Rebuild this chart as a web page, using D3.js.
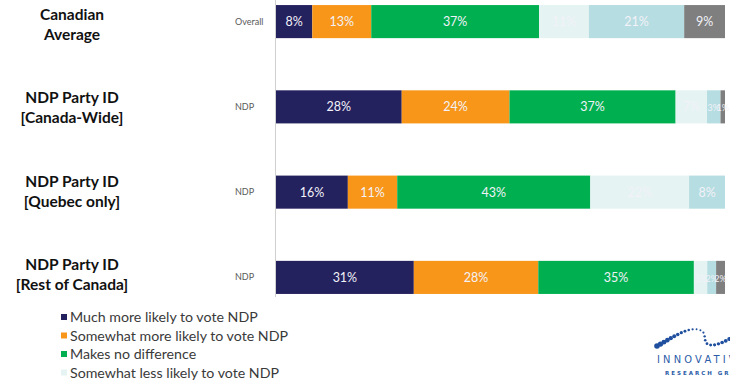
<!DOCTYPE html>
<html>
<head>
<meta charset="utf-8">
<script src="https://cdn.jsdelivr.net/npm/d3@7"></script>
<style>
  body { margin: 0; background: #fff; }
  svg { display: block; font-family: Lato, "Open Sans", sans-serif; }
</style>
</head>
<body>
<div id="chart"></div>
<script>
// groups (rows), top to bottom
const groupTitles = [
    ["Canadian", "Average"],
    ["NDP Party ID", "[Canada-Wide]"],
    ["NDP Party ID", "[Quebec only]"],
    ["NDP Party ID", "[Rest of Canada]"]
];
const rowLabels = ["Overall", "NDP", "NDP", "NDP"];

// answer categories, in stacking order
const seriesNames = [
    "Much more likely to vote NDP",
    "Somewhat more likely to vote NDP",
    "Makes no difference",
    "Somewhat less likely to vote NDP",
    "Much less likely to vote NDP",
    "Don't know"
];
const seriesColors = ["#24215f", "#f8961a", "#00b050", "#e5f3f3", "#b6dde1", "#7f7f7f"];

// percentages per series, one value per row
const muchMore      = [8, 28, 16, 31];
const somewhatMore  = [13, 24, 11, 28];
const noDifference  = [37, 37, 43, 35];
const somewhatLess  = [11, 7, 22, 3];
const muchLess      = [21, 3, 8, 2];
const dontKnow      = [9, 1, 0, 2];

const seriesValues = [muchMore, somewhatMore, noDifference, somewhatLess, muchLess, dontKnow];

const width = 730, height = 381;

const rows = rowLabels.map((label, i) => {
    const r = { row: i };
    seriesNames.forEach((s, j) => { r[s] = seriesValues[j][i]; });
    return r;
});

const stack = d3.stack().keys(seriesNames).offset(d3.stackOffsetExpand);
const layers = stack(rows);

const x = d3.scaleLinear().domain([0, 1]).range([276, 725]);
const y = d3.scaleBand().domain(d3.range(rows.length))
    .range([-12, 311]).paddingInner(0.612).paddingOuter(0.2);
const color = d3.scaleOrdinal().domain(seriesNames).range(seriesColors);

const svg = d3.select("#chart").append("svg")
    .attr("width", width)
    .attr("height", height);

// vertical category axis line
svg.append("line")
    .attr("x1", 275.5).attr("x2", 275.5)
    .attr("y1", 0).attr("y2", 297)
    .attr("stroke", "#d0d0d0");

// bars
const layer = svg.append("g").selectAll("g")
    .data(layers)
    .join("g")
    .attr("fill", d => color(d.key));

layer.selectAll("rect")
    .data(d => d.map((v, i) => ({ v: v, i: i, key: d.key, value: v.data[d.key] })))
    .join("rect")
    .attr("x", d => x(d.v[0]))
    .attr("y", d => y(d.i))
    .attr("width", d => x(d.v[1]) - x(d.v[0]))
    .attr("height", y.bandwidth());

// value labels (tiny segments get a smaller font, they crowd like in the original)
layer.selectAll("text")
    .data(d => d.map((v, i) => ({ v: v, i: i, value: v.data[d.key] })).filter(d => d.value > 0))
    .join("text")
    .attr("x", d => (x(d.v[0]) + x(d.v[1])) / 2)
    .attr("y", d => y(d.i) + y.bandwidth() / 2 + 4.5)
    .attr("text-anchor", "middle")
    .attr("fill", "#f2f2f8")
    .attr("font-size", d => d.value <= 3 ? 9 : 12.5)
    .text(d => d.value + "%");

// small row labels next to the axis
svg.append("g").selectAll("text")
    .data(rowLabels)
    .join("text")
    .attr("x", 235)
    .attr("y", (d, i) => y(i) + y.bandwidth() / 2 + 3)
    .attr("font-size", 9)
    .attr("fill", "#595959")
    .text(d => d);

// bold group titles on the left
const titles = svg.append("g").selectAll("text")
    .data(groupTitles)
    .join("text")
    .attr("text-anchor", "middle")
    .attr("font-weight", "bold")
    .attr("font-size", 15.5)
    .attr("fill", "#111");

titles.selectAll("tspan")
    .data((d, i) => d.map((t, k) => ({ t: t, k: k, i: i })))
    .join("tspan")
    .attr("x", 72)
    .attr("y", d => y(d.i) + y.bandwidth() / 2 - 2 - d.i * 1.8 + d.k * 20)
    .text(d => d.t);

// legend (only the top part fits on the page)
const legend = svg.append("g").selectAll("g")
    .data(seriesNames.slice(0, 4))
    .join("g")
    .attr("transform", (d, i) => `translate(61, ${322 + i * 18.5})`);

legend.append("rect")
    .attr("x", 0).attr("y", -8)
    .attr("width", 6).attr("height", 6)
    .attr("fill", d => color(d));

legend.append("text")
    .attr("x", 9)
    .attr("font-size", 14.2)
    .attr("fill", "#3a3a3a")
    .text(d => d);

// logo in the bottom-right corner
const logo = svg.append("g");
const wave = logo.append("path")
    .attr("d", "M657,346 C672,338 688,326 700,330 C709,333 700,346 713,345 C722,344 728,339 740,334")
    .attr("fill", "none");
const node = wave.node();
const len = node.getTotalLength();
const nDots = 26;
d3.range(nDots).forEach(k => {
    const p = node.getPointAtLength(len * k / (nDots - 1));
    const t = k / (nDots - 1);
    const r = t < 0.45 ? 2.8 - t * 4.2 : 0.9 + (t - 0.45) * 2.6;
    logo.append("circle")
        .attr("cx", p.x).attr("cy", p.y)
        .attr("r", Math.max(0.7, r))
        .attr("fill", "#1f4f9e");
});
logo.append("text")
    .attr("x", 657).attr("y", 363)
    .attr("font-family", "'DejaVu Sans Condensed', 'DejaVu Sans'")
    .attr("font-size", 11)
    .attr("letter-spacing", 3.2)
    .attr("fill", "#2a5ca8")
    .text("INNOVATIVE");
logo.append("text")
    .attr("x", 665).attr("y", 375)
    .attr("font-family", "'DejaVu Sans'")
    .attr("font-weight", "bold")
    .attr("font-size", 5.5)
    .attr("letter-spacing", 2)
    .attr("fill", "#2a5ca8")
    .text("RESEARCH GROUP");
</script>
</body>
</html>
